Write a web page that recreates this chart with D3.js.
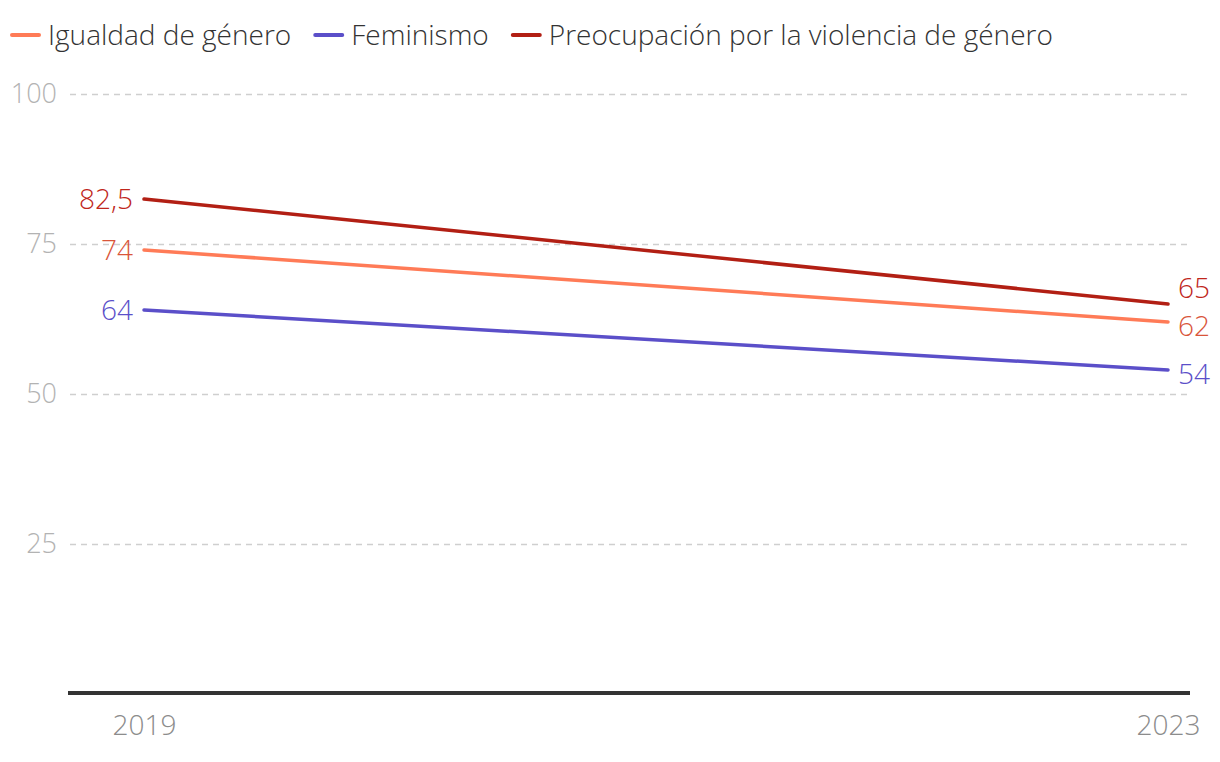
<!DOCTYPE html>
<html><head><meta charset="utf-8">
<script src="https://cdn.jsdelivr.net/npm/d3@7"></script>
<style>
body{margin:0;background:#fff;}
svg{display:block;font-family:"Open Sans",sans-serif;font-weight:300;}
</style></head>
<body><svg id="c" width="1220" height="762"></svg>
<script>
const years = ["2019", "2023"];
const seriesNames = ["Igualdad de género", "Feminismo", "Preocupación por la violencia de género"];
const igualdad = [74, 62];
const feminismo = [64, 54];
const preocupacion = [82.5, 65];
const yTicks = [25, 50, 75, 100];
const lineColors = ["#ff7b57", "#5b4fc9", "#b21f14"];
const labelColors = ["#d9553a", "#5b4fc9", "#c0261b"];

const series = [igualdad, feminismo, preocupacion];
const svg = d3.select("#c");
const x = d3.scalePoint().domain(years).range([144, 1168]);
const y = d3.scaleLinear().domain([0, 100]).range([694, 94]);
const fmt = v => String(v).replace(".", ",");

// grid
const gy = svg.append("g").attr("transform","translate(70,0)")
  .call(d3.axisLeft(y).tickValues(yTicks).tickSize(-1118).tickFormat(d=>d).tickPadding(13));
gy.select(".domain").remove();
gy.selectAll(".tick line").attr("stroke","#cfcfcf").attr("stroke-width",1.5).attr("stroke-dasharray","6,5");
gy.selectAll(".tick text").attr("fill","#b3b3b3").attr("font-size",27).attr("font-family","Open Sans").attr("font-weight",300);

// baseline
svg.append("line").attr("x1",68).attr("x2",1190).attr("y1",y(0)-1).attr("y2",y(0)-1)
  .attr("stroke","#333").attr("stroke-width",4);

// x axis labels
const gx = svg.append("g").attr("transform",`translate(0,${y(0)})`)
  .call(d3.axisBottom(x).tickSize(0).tickPadding(21));
gx.select(".domain").remove();
gx.selectAll(".tick text").attr("fill","#8c8c8c").attr("font-size",28).attr("font-family","Open Sans").attr("font-weight",300);

// lines
const line = d3.line().x((d,i)=>x(years[i])).y(d=>y(d));
series.forEach((s,k)=>{
  svg.append("path").datum(s).attr("d",line).attr("fill","none")
    .attr("stroke",lineColors[k]).attr("stroke-width",3.5).attr("stroke-linecap","round");
  svg.append("text").attr("x",x(years[0])-11).attr("y",y(s[0])).attr("dy","0.35em")
    .attr("text-anchor","end").attr("font-size",28).attr("fill",labelColors[k]).text(fmt(s[0]));
});
// end labels (slightly adjusted vertical positions in reference)
const endOffsets = [4, 4, -16];
series.forEach((s,k)=>{
  svg.append("text").attr("x",x(years[1])+10).attr("y",y(s[1])+endOffsets[k]).attr("dy","0.35em")
    .attr("text-anchor","start").attr("font-size",28).attr("fill",labelColors[k]).text(fmt(s[1]));
});

// legend
const lg = svg.append("g").attr("transform","translate(12,35)");
let lx = 0;
seriesNames.forEach((n,k)=>{
  const g = lg.append("g").attr("transform",`translate(${lx},0)`);
  g.append("line").attr("x1",0).attr("x2",27).attr("stroke",lineColors[k]).attr("stroke-width",4).attr("stroke-linecap","round");
  const t = g.append("text").attr("x",36).attr("dy","0.35em").attr("font-size",28).attr("fill","#333").text(n);
  lx += 36 + t.node().getComputedTextLength() + 24;
});
</script></body></html>
